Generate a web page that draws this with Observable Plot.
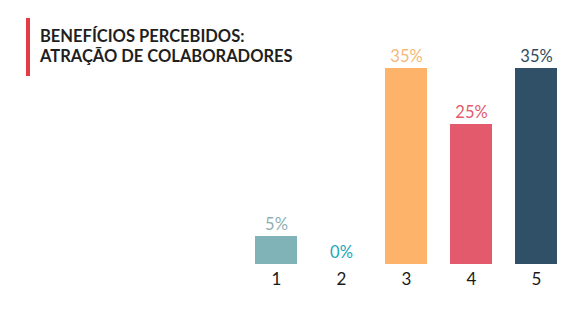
<!DOCTYPE html>
<html><head><meta charset="utf-8">
<script src="https://cdn.jsdelivr.net/npm/d3@7"></script>
<script src="https://cdn.jsdelivr.net/npm/@observablehq/plot@0.6"></script>
<style>
body{margin:0;background:#fff;font-family:Lato,sans-serif;}
#wrap{position:relative;width:588px;height:310px;}
#title{position:absolute;left:26px;top:18px;border-left:4px solid #e63a45;padding-left:10px;height:58px;box-sizing:border-box;font-family:Lato,sans-serif;font-weight:700;font-size:16.5px;line-height:20px;color:#1f1f1f;padding-top:8px;}
</style></head><body>
<div id="wrap"><div id="title">BENEFÍCIOS PERCEBIDOS:<br>ATRAÇÃO DE COLABORADORES</div><div id="chart"></div></div>
<script>
const categories = ["1","2","3","4","5"];
const values = [5,0,35,25,35];
const labels = ["5%","0%","35%","25%","35%"];
const barColors = ["#80b3b8","#1ba8b6","#fdb46a","#e35a6c","#2f5067"];
const labelColors = ["#8fb0b3","#1aa8b7","#f6b877","#e35a6c","#2f4a5e"];
const data = categories.map((c,i)=>({c, v:values[i], l:labels[i], bc:barColors[i], lc:labelColors[i]}));
const chart = Plot.plot({
  width:588, height:310,
  marginLeft:241, marginRight:18, marginTop:68, marginBottom:46,
  style:{fontFamily:"Lato, sans-serif", background:"transparent"},
  x:{domain:categories, paddingInner:0.36, paddingOuter:0.18, label:null, tickSize:0, tickPadding:8},
  y:{domain:[0,35], axis:null},
  marks:[
    Plot.barY(data,{x:"c", y:"v", fill:d=>d.bc}),
    Plot.text(data,{x:"c", y:"v", text:"l", fill:d=>d.lc, lineAnchor:"bottom", dy:-7, fontSize:16.5}),
    Plot.axisX({tickSize:0, tickPadding:8, fontSize:17, color:"#1a1a1a", label:null})
  ]
});
chart.querySelectorAll('[aria-label="x-axis tick label"] text').forEach(t=>t.setAttribute('fill','#1a1a1a'));
document.getElementById('chart').append(chart);
</script></body></html>
